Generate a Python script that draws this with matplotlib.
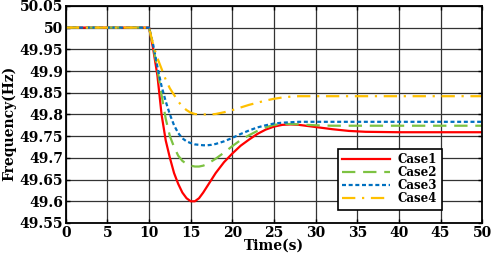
import numpy as np
import matplotlib
matplotlib.use("Agg")
from matplotlib import pyplot as plt

plt.rcParams['font.family'] = ['DejaVu Serif']
plt.rcParams['font.weight'] = 'bold'

# time axis (s)
t = [0, 10, 10.5, 11, 11.5, 12, 12.5, 13, 13.5, 14, 14.5, 15, 15.5, 16, 16.5,
     17, 17.5, 18, 19, 20, 21, 22, 23, 24, 25, 26, 27, 28, 30, 32, 34, 36,
     40, 45, 50]

case1 = [50, 50, 49.95, 49.89, 49.80, 49.74, 49.70, 49.665, 49.64, 49.62,
         49.607, 49.600, 49.600, 49.607, 49.62, 49.635, 49.65, 49.665, 49.69,
         49.71, 49.728, 49.742, 49.755, 49.765, 49.772, 49.776, 49.777,
         49.776, 49.771, 49.766, 49.762, 49.760, 49.759, 49.759, 49.759]
case2 = [50, 50, 49.955, 49.905, 49.845, 49.79, 49.75, 49.725, 49.705,
         49.693, 49.686, 49.682, 49.680, 49.680, 49.682, 49.686, 49.692,
         49.698, 49.712, 49.727, 49.741, 49.752, 49.762, 49.770, 49.776,
         49.778, 49.778, 49.777, 49.775, 49.774, 49.774, 49.774, 49.774,
         49.774, 49.774]
case3 = [50, 50, 49.96, 49.91, 49.865, 49.83, 49.80, 49.775, 49.757, 49.745,
         49.738, 49.734, 49.731, 49.730, 49.729, 49.729, 49.730, 49.732,
         49.738, 49.746, 49.755, 49.763, 49.770, 49.775, 49.779, 49.781,
         49.782, 49.783, 49.783, 49.783, 49.783, 49.783, 49.783, 49.783,
         49.783]
case4 = [50, 50, 49.96, 49.93, 49.905, 49.88, 49.86, 49.845, 49.83, 49.818,
         49.81, 49.804, 49.801, 49.80, 49.80, 49.80, 49.80, 49.801, 49.805,
         49.81, 49.816, 49.822, 49.827, 49.832, 49.836, 49.839, 49.841,
         49.842, 49.842, 49.842, 49.842, 49.842, 49.842, 49.842, 49.842]

labels = ['Case1', 'Case2', 'Case3', 'Case4']
xticks = [0, 5, 10, 15, 20, 25, 30, 35, 40, 45, 50]
yticks = [49.55, 49.6, 49.65, 49.7, 49.75, 49.8, 49.85, 49.9, 49.95, 50, 50.05]
ytick_labels = ['49.55', '49.6', '49.65', '49.7', '49.75', '49.8', '49.85',
                '49.9', '49.95', '50', '50.05']

fig = plt.figure(figsize=(4.91, 2.56), dpi=100)
ax = fig.add_axes([0.134, 0.129, 0.848, 0.848])

ax.plot(t, case1, color='#ff0000', lw=1.6, ls='-', label=labels[0])
ax.plot(t, case2, color='#7dc242', lw=1.6, ls=(0, (6, 3.5)), label=labels[1])
ax.plot(t, case3, color='#0070c0', lw=1.6, ls=(0, (1.8, 1.2)), label=labels[2])
ax.plot(t, case4, color='#ffc000', lw=1.6, ls=(0, (6, 3, 1, 3)), label=labels[3])

ax.set_xlim(0, 50)
ax.set_ylim(49.55, 50.05)
ax.set_xticks(xticks)
ax.set_yticks(yticks)
ax.set_yticklabels(ytick_labels)
ax.tick_params(direction='in', top=True, right=True, length=3, width=1,
               labelsize=10, pad=2)
for lab in ax.get_xticklabels() + ax.get_yticklabels():
    lab.set_fontweight('bold')
ax.grid(True, color='#333333', lw=0.9)
for s in ax.spines.values():
    s.set_linewidth(1.3)

ax.set_xlabel('Time(s)', fontsize=10, fontweight='bold', labelpad=-1)
ax.set_ylabel('Frequency(Hz)', fontsize=10, fontweight='bold', labelpad=1)
ax.yaxis.set_label_coords(-0.12, 0.46)

leg = ax.legend(loc='lower right', bbox_to_anchor=(0.904, 0.06),
                borderaxespad=0, fontsize=8.5, frameon=True, fancybox=False,
                framealpha=1, edgecolor='black', handlelength=4.0,
                labelspacing=0.0, borderpad=0.4, handletextpad=0.7)
leg.get_frame().set_linewidth(1.2)
for txt in leg.get_texts():
    txt.set_fontweight('bold')

fig.savefig('out.png', dpi=100)
